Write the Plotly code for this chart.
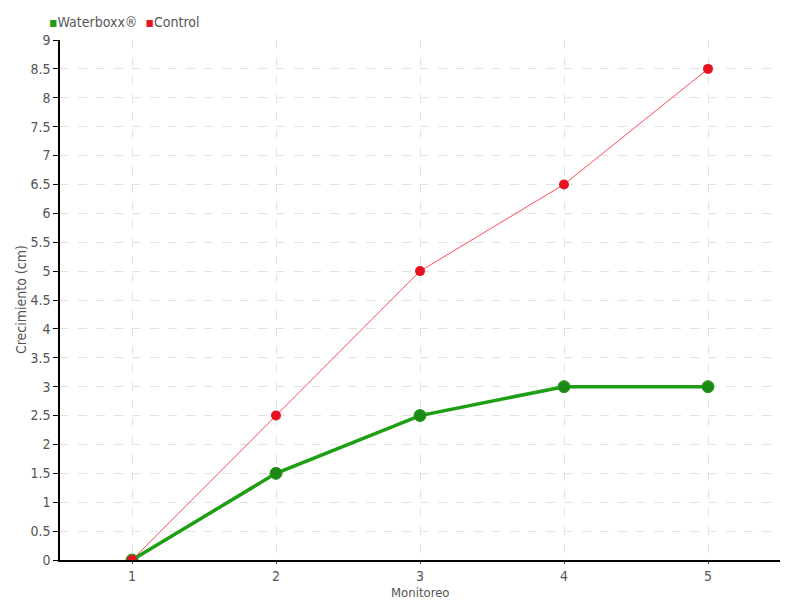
import plotly.graph_objects as go

monitoreo = [1, 2, 3, 4, 5]
waterboxx = [0, 1.5, 2.5, 3, 3]
control = [0, 2.5, 5, 6.5, 8.5]

FONT = "DejaVu Sans Condensed, sans-serif"
GRID = "#e2e2e2"
TXT = "#555555"
GREEN = "#1e9e12"
RED = "#e8121f"

fig = go.Figure()
fig.add_trace(go.Scatter(
    x=monitoreo, y=waterboxx, mode="lines+markers", name="Waterboxx®",
    line=dict(color=GREEN, width=3.5),
    marker=dict(size=12, color="#1c8a14", line=dict(color="#2a9a22", width=1)),
))
fig.add_trace(go.Scatter(
    x=monitoreo, y=control, mode="lines+markers", name="Control",
    line=dict(color="#ff4a5a", width=1),
    marker=dict(size=10, color=RED),
))

# compact legend drawn as text (small square swatch next to the label)
legend_txt = (f"<span style='color:{GREEN}'>▪</span>Waterboxx®  "
              f"<span style='color:{RED}'>▪</span>Control")
fig.add_annotation(text=legend_txt, xref="paper", yref="paper", x=-0.018, y=1.034,
                   xanchor="left", yanchor="middle", showarrow=False,
                   font=dict(size=14, color=TXT))
# axis titles placed as in the reference
fig.add_annotation(text="Crecimiento (cm)", xref="paper", yref="paper", x=-0.054, y=0.5,
                   textangle=-90, xanchor="center", yanchor="middle", showarrow=False,
                   font=dict(size=14, color=TXT))
fig.add_annotation(text="Monitoreo", xref="paper", yref="paper", x=0.5, y=-0.063,
                   xanchor="center", yanchor="middle", showarrow=False,
                   font=dict(size=13, color=TXT))

# page body has an 8px margin, margins below compensate for it
fig.update_layout(
    width=800, height=600,
    paper_bgcolor="white", plot_bgcolor="white",
    margin=dict(l=52, r=28, t=32, b=48, autoexpand=False),
    font=dict(family=FONT, color=TXT, size=14),
    showlegend=False,
)
fig.update_xaxes(
    range=[0.5, 5.5], tickvals=monitoreo, ticktext=[str(m) for m in monitoreo],
    showgrid=True, gridcolor=GRID, griddash="dash", gridwidth=1,
    showline=True, linecolor="black", linewidth=1.5,
    ticks="outside", ticklen=2, tickcolor=TXT, zeroline=False,
    tickfont=dict(color=TXT, size=14),
)
fig.update_yaxes(
    range=[0, 9], dtick=0.5, tickformat="~g",
    showgrid=True, gridcolor=GRID, griddash="dash", gridwidth=1,
    showline=True, linecolor="black", linewidth=1.5,
    ticks="outside", ticklen=5, tickcolor="black", zeroline=False,
    tickfont=dict(color=TXT, size=14),
)

fig.write_html("out.html")
